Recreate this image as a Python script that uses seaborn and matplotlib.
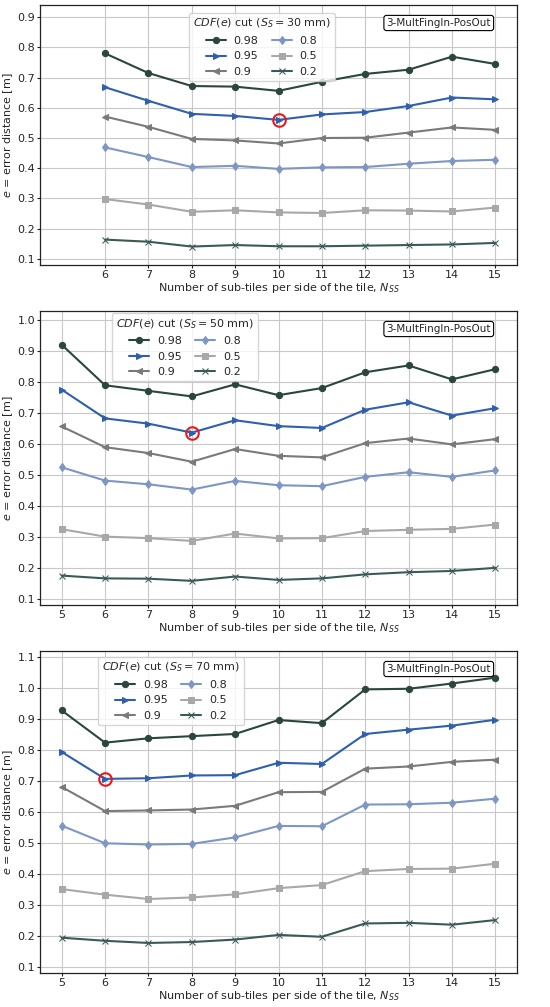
import pandas as pd
import numpy as np
import seaborn as sns
import matplotlib.pyplot as plt

# x values (number of sub-tiles per side)
n_ss_30 = [6, 7, 8, 9, 10, 11, 12, 13, 14, 15]
n_ss_50 = [5, 6, 7, 8, 9, 10, 11, 12, 13, 14, 15]
n_ss_70 = [5, 6, 7, 8, 9, 10, 11, 12, 13, 14, 15]

cuts = ["0.98", "0.95", "0.9", "0.8", "0.5", "0.2"]

# S_S = 30 mm
e30_098 = [0.780, 0.715, 0.672, 0.670, 0.656, 0.686, 0.712, 0.726, 0.769, 0.745]
e30_095 = [0.668, 0.623, 0.580, 0.573, 0.560, 0.578, 0.586, 0.606, 0.634, 0.628]
e30_090 = [0.571, 0.537, 0.497, 0.492, 0.482, 0.500, 0.501, 0.518, 0.535, 0.527]
e30_080 = [0.469, 0.437, 0.404, 0.408, 0.398, 0.403, 0.404, 0.415, 0.424, 0.428]
e30_050 = [0.298, 0.280, 0.256, 0.261, 0.254, 0.252, 0.261, 0.260, 0.257, 0.270]
e30_020 = [0.164, 0.157, 0.141, 0.146, 0.142, 0.142, 0.144, 0.146, 0.148, 0.153]

# S_S = 50 mm
e50_098 = [0.921, 0.790, 0.772, 0.754, 0.793, 0.758, 0.781, 0.832, 0.854, 0.809, 0.842]
e50_095 = [0.776, 0.683, 0.666, 0.637, 0.677, 0.658, 0.652, 0.711, 0.735, 0.692, 0.716]
e50_090 = [0.657, 0.590, 0.571, 0.543, 0.584, 0.562, 0.557, 0.603, 0.618, 0.599, 0.616]
e50_080 = [0.525, 0.482, 0.470, 0.453, 0.481, 0.467, 0.464, 0.494, 0.509, 0.494, 0.515]
e50_050 = [0.325, 0.301, 0.296, 0.287, 0.311, 0.295, 0.296, 0.319, 0.323, 0.326, 0.340]
e50_020 = [0.175, 0.166, 0.165, 0.158, 0.172, 0.161, 0.166, 0.179, 0.186, 0.190, 0.200]

# S_S = 70 mm
e70_098 = [0.928, 0.824, 0.838, 0.845, 0.852, 0.897, 0.887, 0.996, 0.998, 1.015, 1.034]
e70_095 = [0.794, 0.707, 0.709, 0.718, 0.719, 0.759, 0.755, 0.852, 0.866, 0.879, 0.898]
e70_090 = [0.681, 0.603, 0.605, 0.608, 0.620, 0.664, 0.665, 0.740, 0.747, 0.762, 0.769]
e70_080 = [0.556, 0.499, 0.495, 0.497, 0.518, 0.555, 0.554, 0.624, 0.625, 0.630, 0.643]
e70_050 = [0.351, 0.333, 0.319, 0.324, 0.334, 0.354, 0.364, 0.409, 0.416, 0.417, 0.433]
e70_020 = [0.194, 0.184, 0.177, 0.180, 0.188, 0.203, 0.197, 0.240, 0.242, 0.236, 0.251]

# highlighted optimum (0.95 cut) per panel
best_x = [10, 8, 6]
best_y = [0.560, 0.637, 0.707]

sizes = [30, 50, 70]
panels = [
    (n_ss_30, [e30_098, e30_095, e30_090, e30_080, e30_050, e30_020]),
    (n_ss_50, [e50_098, e50_095, e50_090, e50_080, e50_050, e50_020]),
    (n_ss_70, [e70_098, e70_095, e70_090, e70_080, e70_050, e70_020]),
]

colors = {"0.98": "#2a463f", "0.95": "#2f5fae", "0.9": "#7a7a7a",
          "0.8": "#7d96c4", "0.5": "#a8a8a8", "0.2": "#3a5a58"}
markers = {"0.98": "o", "0.95": ">", "0.9": "<", "0.8": "d", "0.5": "s", "0.2": "x"}

sns.set_style("ticks", {"axes.grid": True, "grid.color": "#c8c8c8",
                        "axes.edgecolor": "#222222"})
plt.rcParams["font.family"] = ["DejaVu Sans"]
plt.rcParams["font.size"] = 8
plt.rcParams["mathtext.fontset"] = "dejavusans"

fig = plt.figure(figsize=(5.5, 10.07), dpi=100)
W, H = 550, 1007
boxes = [(5, 265), (311, 605), (651, 973)]   # top/bottom pixel rows
ylims = [(0.08, 0.94), (0.08, 1.03), (0.08, 1.12)]
leg_anchor = [(0.312, 0.97), (0.151, 0.993), (0.122, 0.982)]

for i, (xs, series) in enumerate(panels):
    top, bot = boxes[i]
    ax = fig.add_axes([40 / W, 1 - bot / H, 477 / W, (bot - top) / H])
    rows = []
    for cut, vals in zip(cuts, series):
        for x, v in zip(xs, vals):
            rows.append({"N_SS": x, "e": v, "cut": cut})
    df = pd.DataFrame(rows)
    for cut in cuts:
        sub = df[df["cut"] == cut]
        sns.lineplot(data=sub, x="N_SS", y="e", ax=ax, color=colors[cut],
                     marker=markers[cut], markersize=4.5, linewidth=1.5,
                     markeredgecolor=colors[cut], label=cut)
    ax.plot(best_x[i], best_y[i], "o", ms=9, mfc="none", mec="#e8191c", mew=1.5)
    ax.set_xlim(4.5, 15.5)
    ax.set_ylim(*ylims[i])
    ax.set_xticks(xs)
    yt = np.arange(0.1, ylims[i][1], 0.1)
    ax.set_yticks(yt)
    ax.set_yticklabels([f"{t:.1f}" for t in yt])
    ax.tick_params(labelsize=8, length=2, width=0.8, pad=1.5, color="#222222")
    ax.grid(True, color="#c8c8c8", linewidth=0.8)
    ax.set_xlabel("Number of sub-tiles per side of the tile, $N_{SS}$", fontsize=8, labelpad=1)
    ax.set_ylabel("$e$ = error distance [m]", fontsize=8, labelpad=2)
    leg = ax.legend(title=f"$CDF(e)$ cut ($S_S = {sizes[i]}$ mm)", ncol=2,
                    loc="upper left", bbox_to_anchor=leg_anchor[i], fontsize=8,
                    title_fontsize=8, frameon=True, handlelength=1.8,
                    columnspacing=1.2, borderpad=0.35, labelspacing=0.5,
                    borderaxespad=0, handletextpad=0.7)
    leg.get_frame().set_edgecolor("#cccccc")
    ax.annotate("3-MultFingIn-PosOut", xy=(1, 1), xycoords="axes fraction",
                xytext=(-26, -13), textcoords="offset pixels", ha="right", va="top",
                fontsize=7.5,
                bbox=dict(boxstyle="round,pad=0.25", fc="white", ec="black", lw=0.8))
    for s in ax.spines.values():
        s.set_visible(True)
        s.set_linewidth(0.9)

fig.savefig("out.png", dpi=100)
